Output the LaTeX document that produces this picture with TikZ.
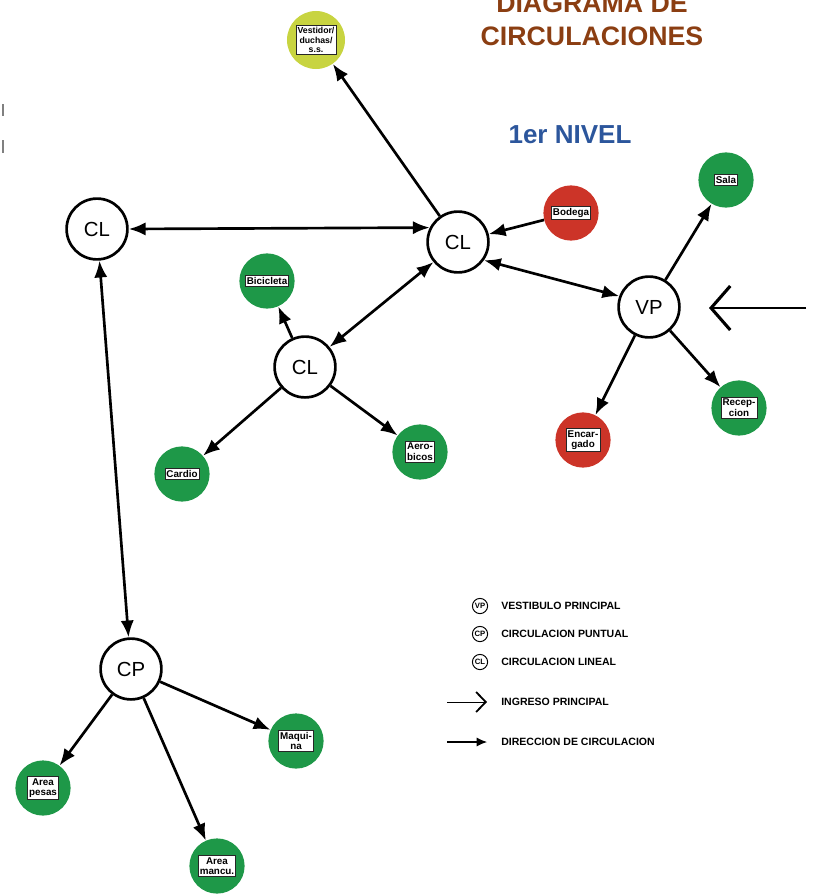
\documentclass[tikz,border=0pt]{standalone}
\usepackage{fontspec}
\setmainfont{Liberation Sans}
\usetikzlibrary{arrows.meta}

\definecolor{verde}{RGB}{30,152,72}
\definecolor{rojo}{RGB}{204,52,40}
\definecolor{amarillo}{RGB}{200,212,64}
\definecolor{marron}{RGB}{139,62,18}
\definecolor{azul}{RGB}{44,86,156}

\begin{document}
\begin{tikzpicture}[
  x=0.025cm, y=-0.025cm,
  hub/.style={circle, draw, line width=1.9pt, fill=white, minimum size=1.52cm, inner sep=0pt, font=\fontsize{14.5}{14.5}\selectfont},
  esp/.style={circle, minimum size=1.38cm, inner sep=0pt},
  vesp/.style={esp, fill=verde},
  resp/.style={esp, fill=rojo},
  rot/.style={draw=black!85, line width=0.5pt, fill=white, inner sep=1.1pt, align=center, font=\bfseries\fontsize{7}{7.6}\selectfont},
  flecha/.style={-{Latex[length=4.2mm,width=3.3mm]}, line width=1.9pt},
  dflecha/.style={{Latex[length=4.2mm,width=3.3mm]}-{Latex[length=4.2mm,width=3.3mm]}, line width=1.9pt},
  titulo/.style={text=marron, font=\bfseries\fontsize{19}{23}\selectfont},
  nivel/.style={text=azul, font=\bfseries\fontsize{18.5}{22}\selectfont},
  leyc/.style={circle, draw, line width=0.7pt, minimum size=0.38cm, inner sep=0pt, font=\bfseries\fontsize{5.5}{6}\selectfont},
  ley/.style={anchor=west, inner sep=0pt, font=\bfseries\fontsize{7.5}{8}\selectfont},
]
\useasboundingbox (0,0) rectangle (814,894);

% titulo
\node[titulo, anchor=base] (tit1) at (592,12) {DIAGRAMA DE};
\node[titulo, anchor=base] (tit2) at (592,45) {CIRCULACIONES};
\node[nivel, anchor=base] (niv) at (570,143) {1er NIVEL};

% marcas del borde
\draw[gray, line width=0.8pt] (3,104) -- (3,116);
\draw[gray, line width=0.8pt] (3,140) -- (3,153);

% circulaciones
\node[hub] (cl1) at (97,229) {CL};
\node[hub] (cl2) at (458,242) {CL};
\node[hub] (cl3) at (305,367) {CL};
\node[hub] (vp) at (649,307) {VP};
\node[hub] (cp) at (131,669) {CP};

% espacios
\node[esp, fill=amarillo, minimum size=1.45cm, label={[rot, font=\bfseries\fontsize{6.2}{6.9}\selectfont]center:{Vestidor/\\duchas/\\s.s.}}] (vest) at (316,40) {};
\node[resp, label={[rot]center:Bodega}] (bod) at (571,213) {};
\node[vesp, label={[rot]center:Sala}] (sala) at (726,180) {};
\node[vesp, label={[rot]center:{Recep-\\cion}}] (rec) at (739,408) {};
\node[resp, label={[rot]center:{Encar-\\gado}}] (enc) at (583,440) {};
\node[vesp, label={[rot]center:Bicicleta}] (bic) at (267,281) {};
\node[vesp, label={[rot]center:Cardio}] (car) at (182,474) {};
\node[vesp, label={[rot]center:{Aero-\\bicos}}] (aer) at (420,452) {};
\node[vesp, label={[rot]center:{Maqui-\\na}}] (maq) at (296,741) {};
\node[vesp, label={[rot]center:{Area\\pesas}}] (pes) at (43,788) {};
\node[vesp, label={[rot]center:{Area\\mancu.}}] (man) at (217,866) {};

% conexiones
\draw[dflecha] (cl1.east) -- (cl2.153);
\draw[flecha] (cl2) -- (vest);
\draw[flecha] (bod) -- (cl2);
\draw[dflecha] (cl2.-35) -- (vp.160);
\draw[dflecha] (cl2) -- (cl3);
\draw[flecha] (cl3) -- (bic);
\draw[flecha] (cl3) -- (car);
\draw[flecha] (cl3) -- (aer);
\draw[flecha] (vp) -- (sala);
\draw[flecha] (vp) -- (rec);
\draw[flecha] (vp) -- (enc);
\draw[dflecha] (cl1) -- (cp);
\draw[flecha] (cp) -- (maq);
\draw[flecha] (cp) -- (pes);
\draw[flecha] (cp) -- (man);

% ingreso
\coordinate (ingA) at (806,308);
\coordinate (ingB) at (709,308);
\draw[line width=1.5pt, -{Straight Barb[length=4.8mm,width=11mm,line width=2.2pt]}] (ingA) -- (ingB);

% leyenda
\node[leyc] (lvp) at (480,606) {VP};
\node[ley] (tvp) at (501,606) {VESTIBULO PRINCIPAL};
\node[leyc] (lcp) at (480,634) {CP};
\node[ley] (tcp) at (501,634) {CIRCULACION PUNTUAL};
\node[leyc] (lcl) at (480,662) {CL};
\node[ley] (tcl) at (501,662) {CIRCULACION LINEAL};
\coordinate (ling1) at (447,702);
\coordinate (ling2) at (487,702);
\draw[line width=0.6pt, -{Straight Barb[length=2.4mm,width=5mm,line width=1.3pt]}] (ling1) -- (ling2);
\node[ley] (ting) at (501,702) {INGRESO PRINCIPAL};
\coordinate (ldir1) at (447,742);
\coordinate (ldir2) at (487,742);
\draw[line width=0.8pt, -{Latex[length=2.6mm,width=2.3mm]}] (ldir1) -- (ldir2);
\node[ley] (tdir) at (501,742) {DIRECCION DE CIRCULACION};
\end{tikzpicture}
\end{document}
